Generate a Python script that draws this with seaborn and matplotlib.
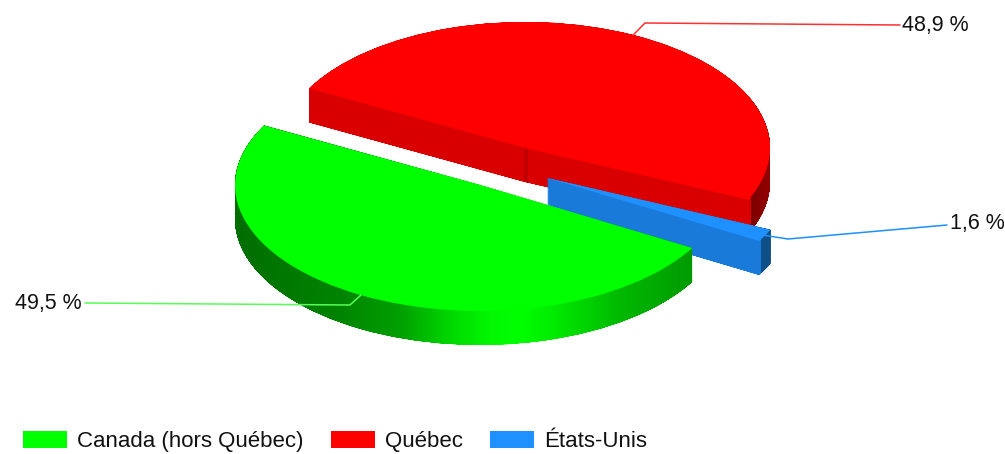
import numpy as np
import matplotlib
matplotlib.use('Agg')
import matplotlib.pyplot as plt
import seaborn as sns
from matplotlib.path import Path
from matplotlib.transforms import Affine2D

# Donnees
categories = ['Canada (hors Québec)', 'Québec', 'États-Unis']
valeurs = [49.5, 48.9, 1.6]
couleurs = ['#00ff00', '#ff0000', '#1e90ff']

# Mise en page, en pixels de l'image
W, H = 1005, 454
RX, RY = 245, 126     # rayons de l'ellipse
DEPTH = 34
centres = [(480, 185), (525, 148), (547, 178)]
coudes = [(350, 305), (645, 23), (788, 239)]
fins = [(85, 303), (900, 25), (947, 225)]
textes = [(82, 304), (902, 25), (950, 224)]
aligns = ['right', 'left', 'left']
lignes = ['#55ff55', '#ff3030', '#1e90ff']

# Degrades des parois : (x en pixels, couleur)
parois = [
    [(235, '#006e00'), (340, '#008400'), (400, '#00a000'), (450, '#00d800'), (490, '#00f800'),
     (520, '#00ff00'), (550, '#00ec00'), (620, '#00b800'), (692, '#009a00')],
    [(300, '#d80000'), (522, '#d80000'), (523, '#c00000'), (526, '#c00000'), (527, '#d80000'),
     (749, '#d80000'), (750, '#7e0000'), (770, '#960000')],
    [(540, '#1a7ada'), (759, '#1a7ada'), (760, '#0f4f87'), (775, '#0f4f87')],
]
ORDRE = [1, 2, 0]   # du fond vers l'avant

sns.set_theme(style='white')
plt.rcParams['font.family'] = ['Liberation Sans', 'DejaVu Sans']


def to_data(x, y):
    return x / RX, -y / RY


def bande(stops):
    xs = np.arange(W)
    pos = [s[0] for s in stops]
    rgb = np.array([matplotlib.colors.to_rgb(s[1]) for s in stops])
    return np.dstack([np.interp(xs, pos, rgb[:, i]) for i in range(3)])


fig = plt.figure(figsize=(W / 100, H / 100), dpi=100)
ax = fig.add_axes([0, 0, 1, 1])

wedges, _ = ax.pie(valeurs, colors=couleurs, startangle=330, counterclock=False, radius=1)

for rang, i in enumerate(ORDRE):
    w = wedges[i]
    w.set_center(to_data(*centres[i]))
    w.set_zorder(rang * 2 + 2)
    w.set_linewidth(0)

    # paroi : le secteur balaye vers le bas, rempli par le degrade
    chemin = w.get_path()
    couches = [chemin.transformed(Affine2D().translate(0, -d / RY)) for d in np.linspace(0, DEPTH, 300)]
    balayage = Path.make_compound_path(*couches)
    im = ax.imshow(bande(parois[i]), extent=(0, W / RX, -H / RY, 0), aspect='auto',
                   interpolation='nearest', zorder=rang * 2 + 1)
    im.set_clip_path(balayage, transform=ax.transData)

# Etiquettes et lignes de rappel
for i, w in enumerate(wedges):
    mid = np.radians((w.theta1 + w.theta2) / 2)
    cx, cy = w.center
    depart = (cx + np.cos(mid), cy + np.sin(mid))
    coude = to_data(*coudes[i])
    fin = to_data(*fins[i])
    ax.plot([depart[0], coude[0], fin[0]], [depart[1], coude[1], fin[1]],
            color=lignes[i], lw=1.1, zorder=10)
    tx, ty = to_data(*textes[i])
    ax.text(tx, ty, f'{valeurs[i]:.1f} %'.replace('.', ','), fontsize=15.5, color='#111111',
            ha=aligns[i], va='center', zorder=11)

ax.legend(wedges, categories, ncol=3, frameon=False, fontsize=16, labelcolor='#111111',
          loc='lower left', bbox_to_anchor=(23 / W, 1 - 452 / H), borderaxespad=0, borderpad=0,
          handlelength=1.98, handleheight=0.81, handletextpad=0.45, columnspacing=1.22)

ax.set_aspect('auto')
ax.set_xlim(0, W / RX)
ax.set_ylim(-H / RY, 0)
ax.axis('off')

fig.savefig('out.png', dpi=100, facecolor='white')
